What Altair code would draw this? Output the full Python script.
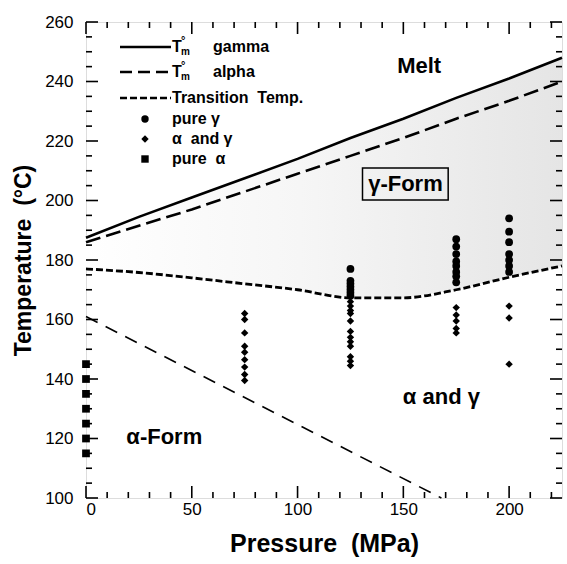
import altair as alt
import pandas as pd

# ---------------- data ----------------
P_grid = [0, 25, 50, 75, 100, 125, 150, 175, 200, 225]
tm_gamma = [187.5, 194.5, 201.0, 207.5, 214.0, 221.0, 227.5, 234.5, 241.0, 248.0]
tm_alpha = [186.0, 191.5, 197.0, 203.0, 209.0, 215.0, 221.0, 227.5, 233.5, 240.0]
trans_T = [177.0, 175.8, 174.0, 172.0, 170.0, 167.3, 167.3, 170.0, 174.2, 178.0]

boundary_P = [0, 168]
boundary_T = [161, 100]

pure_gamma_P = [125] * 7 + [175] * 8 + [200] * 7
pure_gamma_T = [177, 173, 172, 171, 170, 169, 168,
                187, 184.5, 182, 179.5, 178, 176, 174.5, 172.5,
                194, 189.5, 186, 182, 180, 178, 176]

alpha_gamma_P = [75] * 9 + [125] * 12 + [175] * 5 + [200] * 3
alpha_gamma_T = [162, 160, 155.5, 151, 149, 146.5, 144, 141.5, 139.5,
                 166, 164.5, 163, 162, 159.5, 156, 154, 152.5, 151, 147.5, 146, 144.5,
                 164, 161.5, 159.5, 157, 155.5,
                 164.5, 160.5, 145]

pure_alpha_P = [0] * 7
pure_alpha_T = [115, 120, 125, 130, 135, 140, 145]

x_major = [0, 50, 100, 150, 200]
x_minor = [v for v in range(10, 230, 10) if v % 50 != 0]
y_major = [100, 120, 140, 160, 180, 200, 220, 240, 260]
y_minor = [v for v in range(105, 260, 5) if v % 20 != 0]

region_labels = ["Melt", "γ-Form", "α and γ", "α-Form"]
region_P = [157.5, 151, 168, 37]
region_T = [245.2, 205.5, 134, 120.5]

NB = "\u00a0"
legend_labels = ["gamma", "alpha", "Transition" + NB + NB + "Temp.", "pure" + NB + "γ",
                 "α" + NB + NB + "and" + NB + "γ", "pure" + NB + NB + "α"]

# ---------------- helpers ----------------
FONT = "Liberation Sans"
W = 476
H = 476

xs = alt.Scale(domain=[0, 225], nice=False, zero=False)
ys = alt.Scale(domain=[100, 260], nice=False, zero=False)

x_axis = alt.Axis(values=x_major, ticks=False, domain=False, grid=False,
                  labelFont=FONT, labelFontSize=17, labelColor="black",
                  labelPadding=3, title="Pressure" + NB + NB + "(MPa)", titleFont=FONT,
                  titleFontSize=25, titleFontWeight="bold", titleColor="black",
                  titlePadding=14)
y_axis = alt.Axis(values=y_major, ticks=False, domain=False, grid=False,
                  labelFont=FONT, labelFontSize=17, labelColor="black",
                  labelPadding=13, title="Temperature" + NB + NB + "(°C)", titleFont=FONT,
                  titleFontSize=23, titleFontWeight="bold", titleColor="black",
                  titlePadding=9)


def X(field="P"):
    return alt.X(field, type="quantitative", scale=xs, axis=x_axis)


def Y(field="T"):
    return alt.Y(field, type="quantitative", scale=ys, axis=y_axis)


curves = pd.DataFrame({"P": P_grid, "gamma": tm_gamma, "alpha": tm_alpha, "trans": trans_T})

# shaded gamma-form region
area = alt.Chart(curves).mark_area(
    color=alt.Gradient(
        gradient="linear",
        stops=[alt.GradientStop(color="#ffffff", offset=0),
               alt.GradientStop(color="#f6f6f6", offset=0.45),
               alt.GradientStop(color="#e5e5e5", offset=1)],
        x1=0, x2=1, y1=0, y2=0),
).encode(x=X(), y=Y("trans"), y2="gamma")

gamma_line = alt.Chart(curves).mark_line(color="black", strokeWidth=2.6).encode(
    x=X(), y=Y("gamma"))
alpha_line = alt.Chart(curves).mark_line(color="black", strokeWidth=2.6,
                                         strokeDash=[15, 6]).encode(x=X(), y=Y("alpha"))
trans_line = alt.Chart(curves).mark_line(color="black", strokeWidth=2.8,
                                         strokeDash=[7, 3], interpolate="monotone").encode(
    x=X(), y=Y("trans"))

boundary = alt.Chart(pd.DataFrame({"P": boundary_P, "T": boundary_T})).mark_line(
    color="black", strokeWidth=1.6, strokeDash=[13, 9]).encode(x=X(), y=Y())

pg = alt.Chart(pd.DataFrame({"P": pure_gamma_P, "T": pure_gamma_T})).mark_point(
    shape="circle", filled=True, color="black", size=60, opacity=1).encode(x=X(), y=Y())
ag = alt.Chart(pd.DataFrame({"P": alpha_gamma_P, "T": alpha_gamma_T})).mark_point(
    shape="diamond", filled=True, color="black", size=55, opacity=1).encode(x=X(), y=Y())
pa = alt.Chart(pd.DataFrame({"P": pure_alpha_P, "T": pure_alpha_T})).mark_point(
    shape="square", filled=True, color="black", size=60, opacity=1).encode(x=X(), y=Y())


# inward ticks
def xticks(vals, length):
    d = pd.DataFrame({"P": vals})
    bottom = alt.Chart(d).mark_rule(color="black", strokeWidth=1.6).encode(
        x=X(), y=alt.value(H), y2=alt.value(H - length))
    top = alt.Chart(d).mark_rule(color="black", strokeWidth=1.6).encode(
        x=X(), y=alt.value(0), y2=alt.value(length))
    return [bottom, top]


def yticks(vals, length):
    d = pd.DataFrame({"T": vals})
    left = alt.Chart(d).mark_rule(color="black", strokeWidth=1.6).encode(
        y=Y(), x=alt.value(0), x2=alt.value(length))
    right = alt.Chart(d).mark_rule(color="black", strokeWidth=1.6).encode(
        y=Y(), x=alt.value(W), x2=alt.value(W - length))
    return [left, right]


ticks = xticks(x_major, 12) + xticks(x_minor, 6) + yticks(y_major, 12) + yticks(y_minor, 6)

# region labels
reg = pd.DataFrame({"P": region_P, "T": region_T, "label": region_labels})
region_text = alt.Chart(reg).mark_text(font=FONT, fontSize=22, fontWeight="bold",
                                       color="black").encode(x=X(), y=Y(), text="label")
box = alt.Chart(pd.DataFrame({"P": [130.7], "P2": [171.2], "T": [210.9], "T2": [200.2]})).mark_rect(
    fill=None, stroke="black", strokeWidth=1.5).encode(x=X(), x2="P2", y=Y(), y2="T2")

# legend (drawn by hand, pixel offsets inside the plot)
leg = []
row_y = [25, 50, 76, 97, 117, 137]
for yy, dash in zip(row_y[:3], [None, [12, 6], [7, 3]]):
    kw = dict(color="black", strokeWidth=2.6)
    if dash:
        kw["strokeDash"] = dash
    leg.append(alt.Chart(pd.DataFrame({"a": [0]})).mark_rule(**kw).encode(
        x=alt.value(34), x2=alt.value(85), y=alt.value(yy)))
for yy, shp in zip(row_y[3:], ["circle", "diamond", "square"]):
    leg.append(alt.Chart(pd.DataFrame({"a": [0]})).mark_point(
        shape=shp, filled=True, color="black", size=55, opacity=1).encode(
        x=alt.value(59), y=alt.value(yy)))


def ltext(txt, x, y, size=16, weight="bold", align="left"):
    return alt.Chart(pd.DataFrame({"a": [0]})).mark_text(
        text=txt, font=FONT, fontSize=size, fontWeight=weight, align=align,
        baseline="middle", color="black").encode(x=alt.value(x), y=alt.value(y))


for yy in row_y[:2]:
    leg.append(ltext("T", 86, yy))
    leg.append(ltext("°", 95, yy - 6, size=11))
    leg.append(ltext("m", 95, yy + 5, size=10))
leg.append(ltext(legend_labels[0], 127, row_y[0]))
leg.append(ltext(legend_labels[1], 127, row_y[1]))
for lab, yy in zip(legend_labels[2:], row_y[2:]):
    leg.append(ltext(lab, 86, yy))

chart = alt.layer(area, gamma_line, alpha_line, trans_line, boundary, pg, ag, pa,
                  *ticks, region_text, box, *leg).properties(
    width=W, height=H,
    padding={"left": 86, "top": 22, "right": 5, "bottom": 66},
    autosize=alt.AutoSizeParams(type="none"),
).configure_view(stroke="black", strokeWidth=2).configure(background="white")

chart.save("out.html", embed_options={"renderer": "svg", "actions": False})
